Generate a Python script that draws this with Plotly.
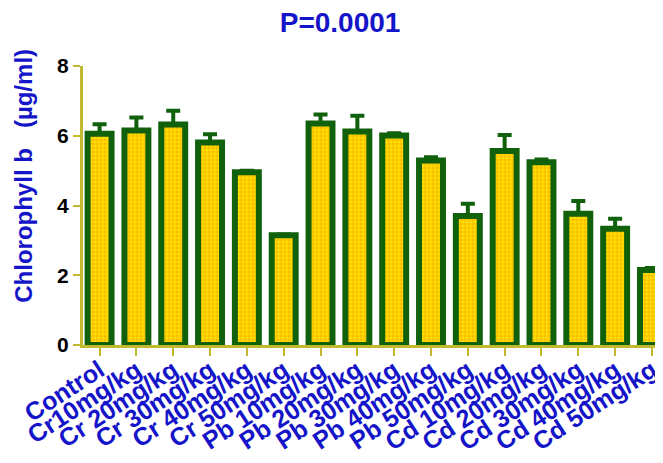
import plotly.graph_objects as go

categories = ["Control", "Cr10mg/kg", "Cr 20mg/kg", "Cr 30mg/kg", "Cr 40mg/kg", "Cr 50mg/kg",
              "Pb 10mg/kg", "Pb 20mg/kg", "Pb 30mg/kg", "Pb 40mg/kg", "Pb 50mg/kg",
              "Cd 10mg/kg", "Cd 20mg/kg", "Cd 30mg/kg", "Cd 40mg/kg", "Cd 50mg/kg"]
means = [6.06, 6.15, 6.32, 5.81, 4.95, 3.15, 6.35, 6.12, 6.01, 5.29, 3.70, 5.56, 5.24, 3.76, 3.33, 2.15]
errors = [0.27, 0.37, 0.40, 0.23, 0.05, 0.02, 0.26, 0.45, 0.06, 0.09, 0.35, 0.46, 0.08, 0.37, 0.29, 0.06]
y_ticks = [0, 2, 4, 6, 8]

green = "#11600C"
axis_col = "#C2BA2E"
blue = "#1414C8"

fig = go.Figure(go.Bar(
    x=list(range(len(categories))),
    y=means,
    error_y=dict(type="data", array=errors, symmetric=False, arrayminus=[0] * len(errors),
                 color=green, thickness=4, width=7),
    marker=dict(color="#FFE000", line=dict(color=green, width=6),
                pattern=dict(shape=".", fgcolor="#F0A000", bgcolor="#FFE000", size=4, solidity=0.6)),
))

fig.update_layout(
    width=655, height=455,
    margin=dict(l=75, r=0, t=58, b=118),
    paper_bgcolor="white", plot_bgcolor="white",
    bargap=0.35,
    showlegend=False,
    title=dict(text="P=0.0001", x=0.507, xanchor="center", y=0.969, yanchor="middle",
               font=dict(family="Liberation Sans", size=28, color=blue, weight="bold")),
    font=dict(family="Liberation Sans"),
    annotations=[dict(text="Chlorophyll b   (µg/ml)", xref="paper", yref="paper",
                      x=-0.102, y=0.606, xanchor="center", yanchor="middle", textangle=-90,
                      showarrow=False,
                      font=dict(family="Liberation Sans", size=24, color=blue, weight="bold"))],
)
fig.update_xaxes(
    range=[-0.45, 15.3], automargin=False,
    tickmode="array", tickvals=list(range(len(categories))), ticktext=categories,
    tickangle=-33, ticklabelstandoff=-10,
    tickfont=dict(family="Liberation Sans", size=25, color=blue, weight="bold"),
    showline=True, linecolor=axis_col, linewidth=3,
    ticks="outside", ticklen=8, tickwidth=2, tickcolor=axis_col,
    showgrid=False, zeroline=False,
)
fig.update_yaxes(
    range=[0, 8], automargin=False,
    tickmode="array", tickvals=y_ticks,
    tickfont=dict(family="Liberation Sans", size=21, color="black", weight="bold"),
    showline=True, linecolor=axis_col, linewidth=3,
    ticks="outside", ticklen=7, tickwidth=2, tickcolor=axis_col,
    showgrid=False, zeroline=False,
)

fig.write_html("out.html")
